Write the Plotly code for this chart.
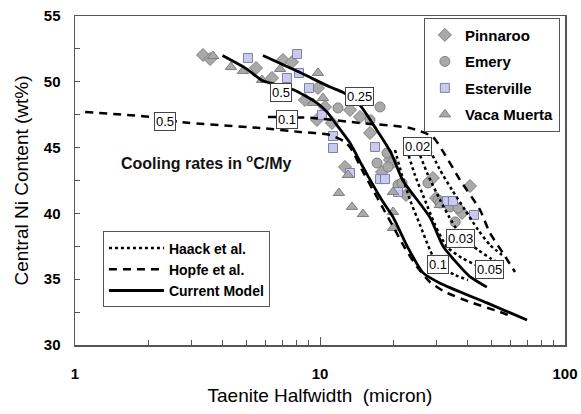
import math
import plotly.graph_objects as go

# ---------------- data ----------------
pinnaroo_x = [3.33, 3.56, 5.48, 6.37, 7.06, 7.69, 8.68, 9.81, 9.72, 10.48, 11.19, 13.26, 14.56, 16.0, 12.65, 17.91, 22.44, 29.75, 37.99, 40.95, 28.9, 19.31]
pinnaroo_y = [52.04, 51.73, 51.05, 50.29, 51.66, 51.5, 48.62, 49.53, 47.1, 48.09, 46.87, 47.86, 47.33, 46.11, 43.53, 43.15, 41.4, 41.17, 40.03, 42.08, 42.69, 44.06]

emery_x = [11.84, 17.58, 16.0, 18.77, 17.09, 19.68, 18.95, 20.82, 21.61, 27.6, 30.31, 30.88, 33.93, 36.59, 35.6]
emery_y = [48.01, 48.09, 47.1, 44.59, 43.83, 43.83, 43.53, 42.16, 42.31, 42.31, 41.02, 40.79, 40.49, 40.41, 39.35]

esterville_x = [5.08, 7.33, 8.06, 8.21, 9.02, 10.19, 11.30, 11.30, 16.77, 13.26, 17.58, 18.42, 20.82, 33.0, 34.9, 42.5]
esterville_y = [51.81, 50.29, 52.11, 50.67, 49.53, 47.48, 45.88, 44.97, 45.05, 43.07, 42.61, 42.61, 41.63, 40.94, 40.94, 39.88]

vaca_x = [3.66, 4.33, 4.85, 5.80, 6.87, 9.81, 9.36, 10.28, 13.01, 11.95, 13.51, 14.98, 19.86, 19.86, 19.86, 30.88]
vaca_y = [51.96, 51.12, 50.82, 50.14, 50.97, 50.67, 48.39, 48.77, 42.92, 41.55, 40.49, 39.95, 41.63, 38.89, 40.11, 40.64]

# Current model (solid)
cm_05_x = [4.0, 5.0, 5.8, 6.3, 7.8, 9.7, 10.7, 11.3, 13.2, 14.8, 16.3, 17.9, 19.9, 22.7, 26.3, 30.9, 48.0, 70.0]
cm_05_y = [52.0, 51.0, 50.1, 49.9, 49.4, 48.4, 47.7, 47.1, 45.4, 43.7, 42.3, 41.0, 39.7, 37.5, 35.5, 34.7, 33.2, 31.9]
cm_025_x = [5.85, 8.3, 11.0, 12.4, 14.3, 17.1, 19.5, 21.8, 28.1, 31.8, 36.3, 40.9, 48.0]
cm_025_y = [52.0, 50.7, 49.6, 49.2, 48.4, 46.3, 44.6, 42.5, 39.7, 37.5, 36.2, 35.2, 34.4]

# Hopfe et al. (dashed)
hop_05_x = [1.10, 2.02, 2.68, 5.69, 8.28, 10.99, 12.65, 13.5, 14.84, 16.46, 18.25, 20.24, 22.2, 25.1, 28.1, 32.4, 40.9, 54.3, 58.5]
hop_05_y = [47.7, 47.33, 46.95, 46.49, 46.19, 45.96, 45.43, 44.82, 43.3, 41.78, 40.26, 38.74, 37.37, 35.85, 34.79, 34.03, 33.27, 32.51, 32.28]
hop_01_x = [6.13, 9.36, 14.56, 23.3, 28.9, 32.4, 37.3, 45.0, 49.4, 55.8, 62.5]
hop_01_y = [47.33, 47.25, 46.87, 46.49, 45.8, 44.44, 42.54, 40.26, 38.51, 36.99, 35.55]

# Haack et al. (dotted)
hk_01_x = [20.24, 21.6, 23.3, 25.6, 28.1, 30.3, 35.6, 40.2]
hk_01_y = [44.82, 42.92, 41.02, 39.12, 37.22, 36.08, 35.32, 34.94]
hk_005_x = [22.65, 24.4, 26.8, 29.5, 33.0, 38.0, 44.2, 47.6]
hk_005_y = [44.82, 42.92, 41.02, 39.12, 37.45, 36.61, 36.0, 35.7]
hk_003_x = [25.1, 27.6, 30.9, 34.6, 38.0, 44.2, 49.4, 52.8]
hk_003_y = [44.82, 42.92, 41.02, 39.35, 38.21, 37.22, 36.61, 36.31]
hk_002_x = [28.1, 30.9, 34.6, 39.1, 44.2, 49.4, 55.3]
hk_002_y = [44.82, 43.3, 41.78, 40.26, 38.74, 37.6, 36.84]

# rate labels
rate_text = ["0.5", "0.5", "0.1", "0.25", "0.02", "0.03", "0.05", "0.1"]
rate_x = [2.33, 6.93, 7.33, 14.56, 25.1, 37.6, 49.0, 30.3]
rate_y = [46.95, 49.15, 47.17, 48.85, 45.12, 38.13, 35.7, 36.08]

# ---------------- figure ----------------
FONT = "Liberation Sans, Arial, sans-serif"
fig = go.Figure()

mk_line = dict(color="#7f7f7f", width=1)
fig.add_trace(go.Scatter(x=pinnaroo_x, y=pinnaroo_y, mode="markers", name="Pinnaroo", legendgroup="p",
                         marker=dict(symbol="diamond", size=10, color="#a9a9a9", line=mk_line)))
fig.add_trace(go.Scatter(x=emery_x, y=emery_y, mode="markers", name="Emery", legendgroup="e",
                         marker=dict(symbol="circle", size=10, color="#a9a9a9", line=mk_line)))
fig.add_trace(go.Scatter(x=esterville_x, y=esterville_y, mode="markers", name="Esterville", legendgroup="s",
                         marker=dict(symbol="square", size=9, color="#c9c9f2", line=dict(color="#7f7f9f", width=1))))
fig.add_trace(go.Scatter(x=vaca_x, y=vaca_y, mode="markers", name="Vaca Muerta", legendgroup="v",
                         marker=dict(symbol="triangle-up", size=10, color="#a9a9a9", line=mk_line)))

def add_curves(curves, name, dash, width):
    for i, (cx, cy) in enumerate(curves):
        fig.add_trace(go.Scatter(x=cx, y=cy, mode="lines", name=name, legend="legend2",
                                 legendgroup=name, showlegend=(i == 0),
                                 line=dict(color="black", width=width, dash=dash, shape="spline", smoothing=0.6)))

add_curves([(hk_01_x, hk_01_y), (hk_005_x, hk_005_y), (hk_003_x, hk_003_y), (hk_002_x, hk_002_y)],
           "Haack et al.", "dot", 2.5)
add_curves([(hop_05_x, hop_05_y), (hop_01_x, hop_01_y)], "Hopfe et al.", "8px,6px", 2.5)
add_curves([(cm_05_x, cm_05_y), (cm_025_x, cm_025_y)], "Current Model", "solid", 2.8)

for t, ax_, ay_ in zip(rate_text, rate_x, rate_y):
    fig.add_annotation(x=math.log10(ax_), y=ay_, xref="x", yref="y", text=t, showarrow=False,
                       font=dict(family=FONT, size=13, color="black"),
                       bgcolor="white", bordercolor="#444", borderwidth=1, borderpad=1)

fig.add_annotation(x=0.269, y=0.556, xref="paper", yref="paper", xanchor="center", yanchor="middle",
                   text="Cooling rates in <sup>o</sup>C/My", showarrow=False,
                   font=dict(family=FONT, size=16, color="#111", weight="bold"))

axis_common = dict(showline=True, linecolor="#555", linewidth=1.5, mirror=True, automargin=False,
                   showgrid=False, zeroline=False, ticks="inside", tickcolor="#555",
                   tickfont=dict(family=FONT, size=15, color="black", weight="bold"))

fig.update_xaxes(type="log", range=[0, 2], tickvals=[1, 10, 100], ticktext=["1", "10", "100"],
                 ticklen=8, ticklabelstandoff=14,
                 minor=dict(ticks="inside", ticklen=5, tickcolor="#555", dtick="D1", showgrid=False),
                 title=dict(text="Taenite Halfwidth\u00a0 (micron)", font=dict(family=FONT, size=19, color="black"),
                            standoff=8),
                 **axis_common)
fig.update_yaxes(range=[30, 55], dtick=5, ticklen=5, ticklabelstandoff=10,
                 minor=dict(ticks="inside", ticklen=5, tickcolor="#555", dtick=2.5, showgrid=False),
                 title=dict(text="Central Ni Content (wt%)", font=dict(family=FONT, size=19, color="black"),
                            standoff=10),
                 **axis_common)

fig.update_layout(
    width=581, height=414,
    margin=dict(l=75, r=16, t=16, b=69),
    paper_bgcolor="white", plot_bgcolor="white",
    font=dict(family=FONT),
    legend=dict(x=0.712, y=0.995, xanchor="left", yanchor="top", bgcolor="white",
                bordercolor="#555", borderwidth=1,
                font=dict(family=FONT, size=15, color="black", weight="bold"),
                tracegroupgap=4, itemwidth=30),
    legend2=dict(x=0.057, y=0.345, xanchor="left", yanchor="top", bgcolor="white",
                 bordercolor="#555", borderwidth=1, tracegroupgap=0,
                 font=dict(family=FONT, size=14, color="black", weight="bold"),
                 itemwidth=55),
)

fig.write_html("out.html", config={"displayModeBar": False, "staticPlot": True},
               post_script="document.body.style.margin='0px';document.body.style.overflow='hidden';")
